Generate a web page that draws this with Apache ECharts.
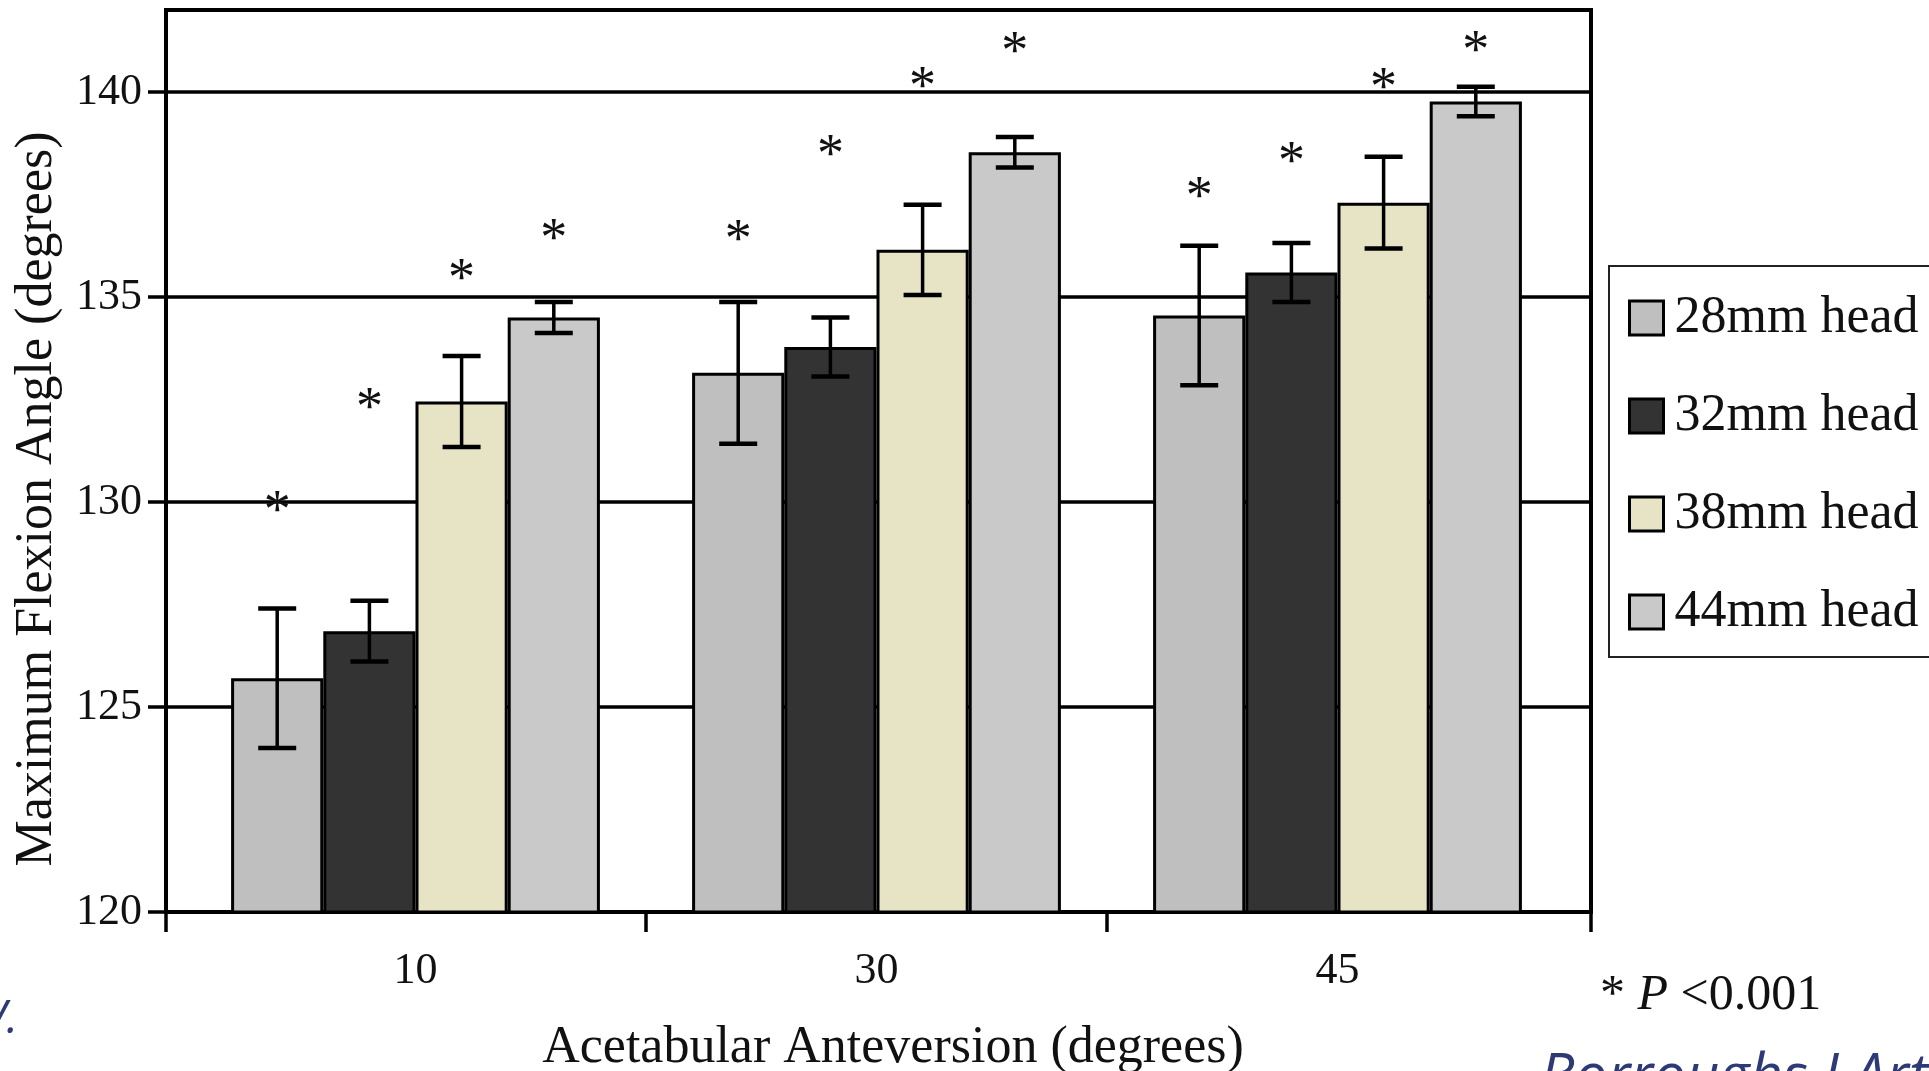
<!DOCTYPE html>
<html>
<head>
<meta charset="utf-8">
<title>Maximum Flexion Angle</title>
<script src="https://cdn.jsdelivr.net/npm/echarts@6/dist/echarts.min.js"></script>
<style>
  html, body { margin: 0; padding: 0; background: #fff; }
  #main { width: 1929px; height: 1071px; }
</style>
</head>
<body>
<div id="main"></div>
<script>
// anteversion groups and head sizes
const categories = ['10', '30', '45'];
const heads = ['28mm head', '32mm head', '38mm head', '44mm head'];

// mean max flexion angle per head size (one value per anteversion group)
const mean28 = [125.7, 133.15, 134.55];
const mean32 = [126.85, 133.78, 135.6];
const mean38 = [132.45, 136.15, 137.3];
const mean44 = [134.5, 138.53, 139.77];

// +/- error per head size
const err28 = [1.7, 1.73, 1.7];
const err32 = [0.74, 0.72, 0.72];
const err38 = [1.11, 1.1, 1.12];
const err44 = [0.38, 0.37, 0.36];

// where the significance asterisks sit (y value)
const star28 = [130.0, 136.6, 137.66];
const star32 = [132.5, 138.68, 138.51];
const star38 = [135.67, 140.34, 140.32];
const star44 = [136.64, 141.19, 141.22];

const yTicks = [120, 125, 130, 135, 140];

const means = [mean28, mean32, mean38, mean44];
const errs = [err28, err32, err38, err44];
const stars = [star28, star32, star38, star44];
const colors = ['#bfbfbf', '#333333', '#e6e4c4', '#c9c9c9'];

const serif = "'Liberation Serif', 'Times New Roman', serif";
const catGap = 0.2;
// frame axis runs a little past the category band on each side
const frameMin = -0.041;
const frameMax = 3.05;
const starSize = 54;

function barCenter(api, cat, s) {
  const band = api.size([1, 0])[0];
  const w = band * (1 - catGap) / heads.length;
  return api.coord([cat, 120])[0] + (s - (heads.length - 1) / 2) * w;
}

const errData = [];
const starData = [];
heads.forEach((h, s) => {
  categories.forEach((c, i) => {
    errData.push([c, means[s][i], errs[s][i], s]);
    starData.push([c, stars[s][i], s]);
  });
});

const chart = echarts.init(document.getElementById('main'));

const option = {
  animation: false,
  backgroundColor: '#fff',
  grid: [
    { left: 166, right: 338, top: 10, bottom: 159, outerBoundsMode: 'none', show: true, borderColor: '#000', borderWidth: 4, backgroundColor: 'transparent' },
    { left: 185, right: 361, top: 10, bottom: 159, outerBoundsMode: 'none' }
  ],
  legend: {
    data: heads,
    orient: 'vertical',
    left: 1609,
    top: 266,
    icon: 'rect',
    itemWidth: 34,
    itemHeight: 34,
    itemGap: 46,
    padding: [26, 40, 19, 19],
    borderColor: '#222',
    borderWidth: 2,
    itemStyle: { borderColor: '#000', borderWidth: 3 },
    textStyle: { fontSize: 52, fontFamily: serif, color: '#111', padding: [0, 0, 0, 6] }
  },
  xAxis: [
    {
      gridIndex: 0,
      type: 'value',
      min: frameMin,
      max: frameMax,
      axisLine: { show: true, onZero: false, lineStyle: { color: '#000', width: 3.5 } },
      axisTick: { show: true, length: 20, customValues: [frameMin, 1, 2, frameMax], lineStyle: { color: '#000', width: 3.5 } },
      axisLabel: { show: false },
      splitLine: { show: false }
    },
    {
      gridIndex: 1,
      type: 'category',
      data: categories,
      axisLine: { show: false },
      axisTick: { show: false },
      axisLabel: { fontSize: 44, fontFamily: serif, color: '#111', margin: 37 },
      name: 'Acetabular Anteversion (degrees)',
      nameLocation: 'middle',
      nameGap: 110,
      nameTextStyle: { fontSize: 52, fontFamily: serif, color: '#111', padding: [0, 0, 0, 33] }
    }
  ],
  yAxis: [
    {
      gridIndex: 0,
      type: 'value',
      min: 120,
      max: 142,
      interval: 5,
      axisLine: { show: true, onZero: false, lineStyle: { color: '#000', width: 3.5 } },
      axisTick: { show: true, length: 18, customValues: yTicks, lineStyle: { color: '#000', width: 3.5 } },
      axisLabel: { customValues: yTicks, fontSize: 44, fontFamily: serif, color: '#111', margin: 24 },
      splitLine: { show: true, lineStyle: { color: '#000', width: 3.5 } },
      name: 'Maximum Flexion Angle (degrees)',
      nameLocation: 'middle',
      nameGap: 103,
      nameTextStyle: { fontSize: 52, fontFamily: serif, color: '#111', padding: [0, 76, 0, 0] }
    },
    { gridIndex: 1, type: 'value', min: 120, max: 142, show: false }
  ],
  series: heads.map((h, s) => ({
    name: h,
    type: 'bar',
    xAxisIndex: 1,
    yAxisIndex: 1,
    data: means[s],
    barGap: '0%',
    barCategoryGap: (catGap * 100) + '%',
    itemStyle: { color: colors[s], borderColor: '#000', borderWidth: 3 },
    z: 2
  })).concat([
    {
      type: 'custom',
      name: 'error',
      xAxisIndex: 1,
      yAxisIndex: 1,
      data: errData,
      z: 4,
      renderItem: function (params, api) {
        const cat = api.value(0);
        const s = api.value(3);
        const x = barCenter(api, cat, s);
        const hi = api.coord([cat, api.value(1) + api.value(2)])[1];
        const lo = api.coord([cat, api.value(1) - api.value(2)])[1];
        const c = 19;
        return {
          type: 'group',
          children: [
            { type: 'line', shape: { x1: x, y1: hi, x2: x, y2: lo }, style: { stroke: '#000', lineWidth: 3.5 } },
            { type: 'line', shape: { x1: x - c, y1: hi, x2: x + c, y2: hi }, style: { stroke: '#000', lineWidth: 4.5 } },
            { type: 'line', shape: { x1: x - c, y1: lo, x2: x + c, y2: lo }, style: { stroke: '#000', lineWidth: 4.5 } }
          ]
        };
      }
    },
    {
      type: 'custom',
      name: 'stars',
      xAxisIndex: 1,
      yAxisIndex: 1,
      data: starData,
      z: 4,
      renderItem: function (params, api) {
        const cat = api.value(0);
        const s = api.value(2);
        const x = barCenter(api, cat, s);
        const y = api.coord([cat, api.value(1)])[1];
        return {
          type: 'text',
          x: x,
          y: y + starSize * 0.2,
          style: { text: '*', fontSize: starSize, fontFamily: serif, fill: '#111', align: 'center', verticalAlign: 'middle' }
        };
      }
    }
  ]),
  graphic: [
    {
      type: 'text',
      x: 1600,
      y: 996,
      style: {
        text: '{n|* }{i|P}{n| <0.001}',
        verticalAlign: 'middle',
        rich: {
          n: { fontSize: 50, fontFamily: serif, fill: '#111' },
          i: { fontSize: 50, fontFamily: serif, fontStyle: 'italic', fill: '#111' }
        }
      }
    },
    {
      type: 'text',
      x: 1540,
      y: 1078,
      style: { text: 'Borroughs J Art', fontSize: 58, fontFamily: "'Open Sans', sans-serif", fontStyle: 'italic', fill: '#2d3a75', verticalAlign: 'middle' }
    },
    {
      type: 'text',
      x: 18,
      y: 1020,
      style: { text: 'V.', fontSize: 46, fontFamily: "'Open Sans', sans-serif", fontStyle: 'italic', fill: '#2d3a75', align: 'right', verticalAlign: 'middle' }
    }
  ]
};

chart.setOption(option);
</script>
</body>
</html>
